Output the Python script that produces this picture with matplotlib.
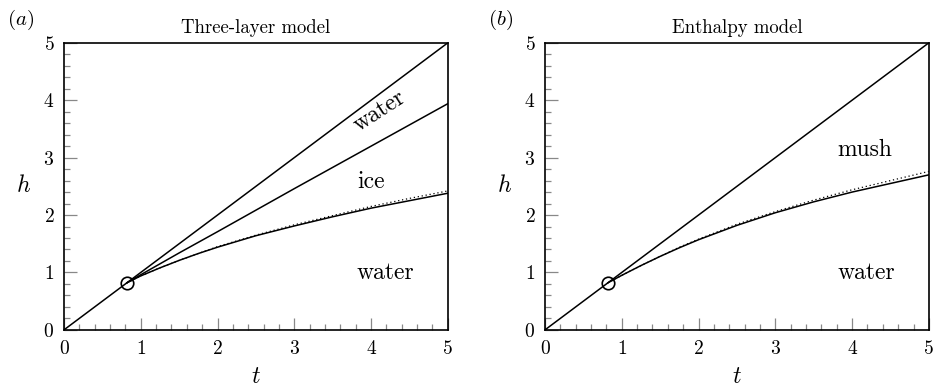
import matplotlib
matplotlib.use("Agg")
import matplotlib.pyplot as plt
from matplotlib.ticker import MultipleLocator

plt.rcParams['font.family'] = 'cmr10'
plt.rcParams['mathtext.fontset'] = 'cm'
plt.rcParams['axes.formatter.use_mathtext'] = True

# frente de congelacion h = t (recta superior, ambos paneles)
t_line = [0, 5]
h_line = [0, 5]

# punto de transicion (circulo)
t_c = 0.82
h_c = 0.82

# (a) modelo de tres capas
t_mid = [0.82, 1.0, 1.25, 1.5, 2.0, 3.0, 4.0, 5.0]
h_mid = [0.82, 0.96, 1.15, 1.34, 1.71, 2.46, 3.20, 3.94]

t_low = [0.82, 1.0, 1.25, 1.5, 1.75, 2.0, 2.5, 3.0, 3.5, 4.0, 4.5, 5.0]
h_low_a = [0.82, 0.94, 1.08, 1.21, 1.33, 1.44, 1.64, 1.81, 1.97, 2.12, 2.25, 2.38]
h_dot_a = [0.82, 0.94, 1.08, 1.21, 1.33, 1.45, 1.65, 1.83, 1.99, 2.15, 2.29, 2.42]

# (b) modelo de entalpia
h_low_b = [0.82, 0.95, 1.12, 1.28, 1.43, 1.57, 1.82, 2.04, 2.23, 2.40, 2.55, 2.70]
h_dot_b = [0.82, 0.95, 1.12, 1.28, 1.44, 1.58, 1.84, 2.06, 2.26, 2.44, 2.60, 2.76]

fig = plt.figure(figsize=(9.34, 3.89), dpi=100)
axA = fig.add_axes([0.0685, 0.152, 0.411, 0.738])
axB = fig.add_axes([0.5835, 0.152, 0.411, 0.738])


def estilo(ax, titulo):
    ax.set_xlim(0, 5)
    ax.set_ylim(0, 5)
    ax.xaxis.set_major_locator(MultipleLocator(1))
    ax.yaxis.set_major_locator(MultipleLocator(1))
    ax.xaxis.set_minor_locator(MultipleLocator(0.2))
    ax.yaxis.set_minor_locator(MultipleLocator(0.2))
    ax.tick_params(which='both', direction='in', color='#888888', width=0.9,
                   labelsize=14, top=False, right=False)
    ax.tick_params(which='major', length=9, pad=7)
    ax.tick_params(which='minor', length=4.5)
    for s in ax.spines.values():
        s.set_linewidth(1.2)
    ax.set_title(titulo, fontsize=13.5, pad=7)
    ax.set_xlabel(r'$t$', fontsize=17, labelpad=6)
    ax.set_ylabel(r'$h$', fontsize=17, rotation=0, labelpad=14, va='center')


# Panel (a)
axA.plot(t_line, h_line, color='black', lw=1.1)
axA.plot(t_mid, h_mid, color='black', lw=1.1)
axA.plot(t_low, h_dot_a, color='black', lw=0.9, ls=(0, (1, 2.2)))
axA.plot(t_low, h_low_a, color='black', lw=1.1)
axA.plot([t_c], [h_c], marker='o', ms=9, mfc='none', mec='black', mew=1.2)
axA.text(4.11, 3.8, 'water', fontsize=17, rotation=33, ha='center', va='center')
axA.text(4.0, 2.58, 'ice', fontsize=17, ha='center', va='center')
axA.text(4.19, 0.99, 'water', fontsize=17, ha='center', va='center')
estilo(axA, 'Three-layer model')

# Panel (b)
axB.plot(t_line, h_line, color='black', lw=1.1)
axB.plot(t_low, h_dot_b, color='black', lw=0.9, ls=(0, (1, 2.2)))
axB.plot(t_low, h_low_b, color='black', lw=1.1)
axB.plot([t_c], [h_c], marker='o', ms=9, mfc='none', mec='black', mew=1.2)
axB.text(4.17, 3.13, 'mush', fontsize=17, ha='center', va='center')
axB.text(4.19, 0.99, 'water', fontsize=17, ha='center', va='center')
estilo(axB, 'Enthalpy model')

fig.text(0.007, 0.948, r'$(a)$', fontsize=15, va='center', ha='left')
fig.text(0.522, 0.948, r'$(b)$', fontsize=15, va='center', ha='left')

fig.savefig('out.png', dpi=100)
